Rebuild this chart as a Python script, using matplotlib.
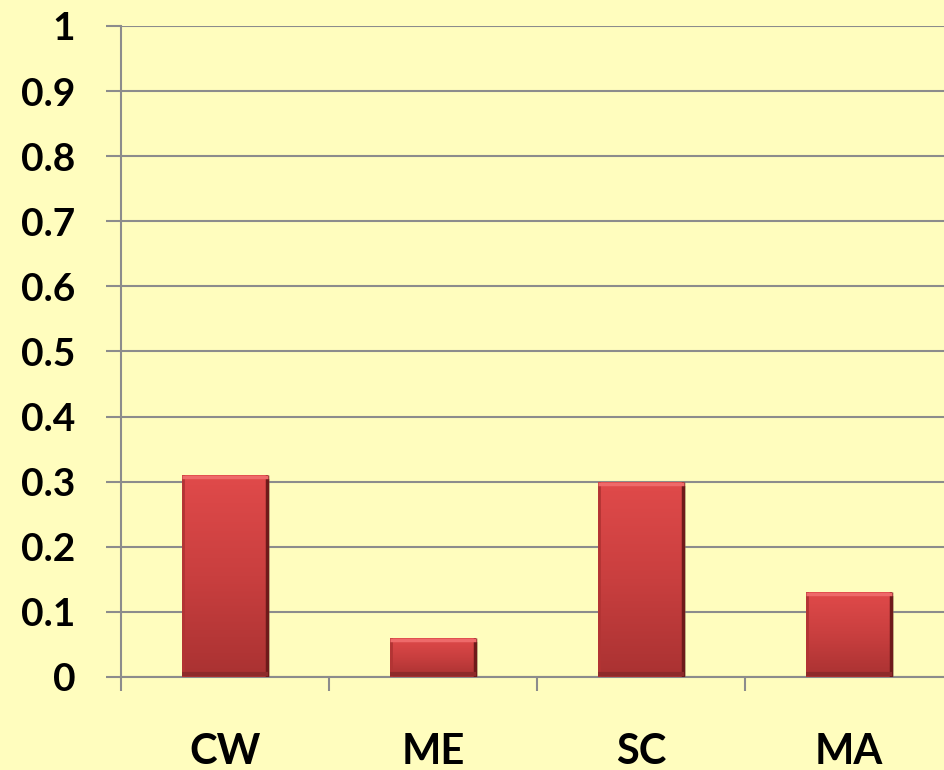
import numpy as np
import matplotlib.pyplot as plt
from matplotlib.colors import LinearSegmentedColormap

# data
categories = ['CW', 'ME', 'SC', 'MA']
values = [0.31, 0.06, 0.30, 0.13]
yticks = [0, 0.1, 0.2, 0.3, 0.4, 0.5, 0.6, 0.7, 0.8, 0.9, 1]
ytick_labels = ['0', '0.1', '0.2', '0.3', '0.4', '0.5', '0.6', '0.7', '0.8', '0.9', '1']

bg = '#FFFDBE'
grid_col = '#8C8C8C'

plt.rcParams['font.family'] = ['Lato', 'DejaVu Sans']
plt.rcParams['font.weight'] = 'bold'

fig = plt.figure(figsize=(9.44, 7.70), dpi=100, facecolor=bg)
ax = fig.add_axes([0.1282, 0.1208, 0.8814, 0.8455])
ax.set_facecolor(bg)

x = np.arange(len(categories))
bars = ax.bar(x, values, width=0.41, color='#C83C3C', edgecolor='none', zorder=3)

# gradient fill + bevel look for each bar
cmap = LinearSegmentedColormap.from_list('bar', ['#E04A4A', '#C93F3F', '#AA3232'])
for b in bars:
    x0, y0 = b.get_x(), b.get_y()
    w, h = b.get_width(), b.get_height()
    # soft shadow
    ax.bar(x0 + w / 2 + 0.012, h, width=w, bottom=y0 - 0.006, color='#9A9A70', alpha=0.35,
           edgecolor='none', zorder=2)
    grad = np.linspace(0, 1, 100).reshape(-1, 1)
    im = ax.imshow(grad, extent=[x0, x0 + w, y0, y0 + h], origin='upper', cmap=cmap,
                   aspect='auto', zorder=3.1)
    im.set_clip_path(b)
    # bevel edges
    ax.plot([x0 + w - 0.004, x0 + w - 0.004], [y0, y0 + h], color='#6E1A1A', lw=2.5, zorder=3.3,
            solid_capstyle='butt')
    ax.plot([x0 + 0.003, x0 + 0.003], [y0, y0 + h], color='#B23434', lw=2, zorder=3.3,
            solid_capstyle='butt')
    ax.plot([x0, x0 + w], [y0 + h - 0.003, y0 + h - 0.003], color='#EE6A6A', lw=2.5, zorder=3.3,
            solid_capstyle='butt')
    ax.plot([x0, x0 + w], [y0 + 0.004, y0 + 0.004], color='#8E2A2A', lw=3, zorder=3.3,
            solid_capstyle='butt')

ax.set_xlim(-0.5, len(categories) - 0.5)
ax.set_ylim(0, 1)

ax.set_yticks(yticks)
ax.set_yticklabels(ytick_labels, fontsize=28, fontweight='bold')
ax.yaxis.grid(True, color=grid_col, linewidth=1.5, zorder=0)
ax.set_axisbelow(True)
ax.tick_params(axis='y', length=11, width=1.5, color=grid_col, pad=22)

ax.set_xticks(x)
ax.set_xticklabels(categories, fontsize=30, fontweight='bold')
ax.set_xticks(np.arange(-0.5, len(categories)), minor=True)
ax.tick_params(axis='x', which='major', length=0, pad=40)
ax.tick_params(axis='x', which='minor', length=10, width=1.5, color=grid_col, direction='out')

for s in ['top', 'right']:
    ax.spines[s].set_visible(False)
for s in ['left', 'bottom']:
    ax.spines[s].set_color(grid_col)
    ax.spines[s].set_linewidth(1.5)

fig.savefig('out.png', dpi=100, facecolor=bg)
